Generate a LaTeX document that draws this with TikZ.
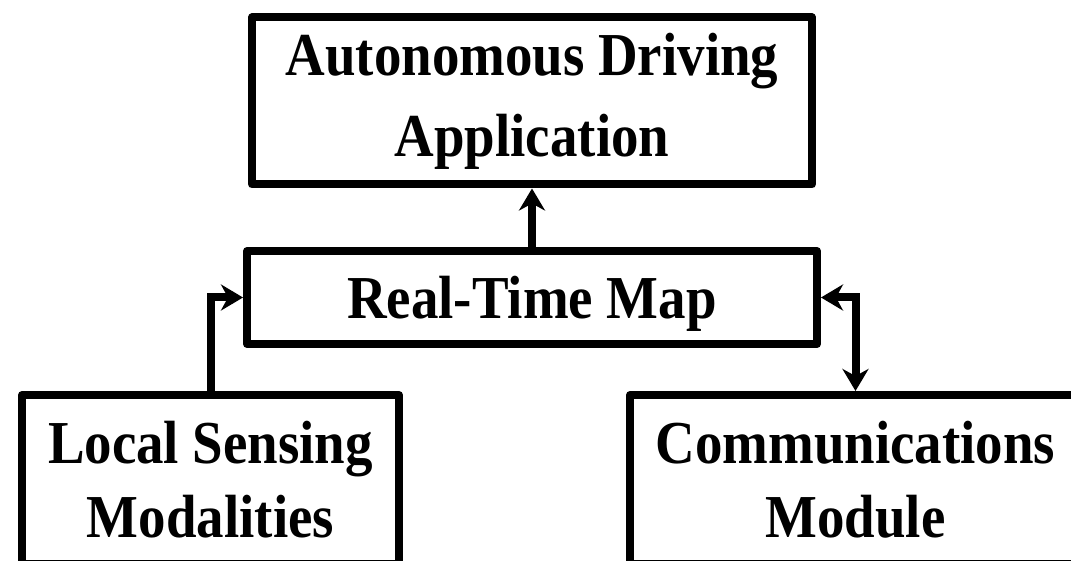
\documentclass[tikz,border=0pt]{standalone}
\usepackage{fontspec}
\newfontfamily\diagfont{Liberation Serif}[FakeStretch=0.9]
\usetikzlibrary{arrows.meta}
\begin{document}
\begin{tikzpicture}[x=1pt,y=-1pt,
  box/.style={draw, line width=8pt, line join=round, align=center, inner sep=0pt},
  bigtext/.style={font=\diagfont\bfseries\fontsize{61}{81}\selectfont},
  lowtext/.style={font=\diagfont\bfseries\fontsize{61}{74}\selectfont},
  arr/.tip={Stealth[length=22pt,width=26pt,inset=7pt]},
  link/.style={line width=8pt},
]
\useasboundingbox (0,0) rectangle (1071,561);
\clip (0,0) rectangle (1071,561);

% blocks
\node[box, bigtext, minimum width=560pt, minimum height=167pt] (app) at (532,101)
  {Autonomous Driving\\Application};
\node[box, bigtext, minimum width=570pt, minimum height=93pt, text depth=0pt] (map) at (532,297.5)
  {Real-Time Map};
\node[box, lowtext, minimum width=377pt, minimum height=168.5pt] (sense) at (210.5,479.25)
  {Local Sensing\\Modalities};
\node[box, lowtext, minimum width=451pt, minimum height=168.5pt] (comm) at (855.5,479.25)
  {Communications\\Module};

% data flow
\draw[link, -arr] (map.north) -- (app.south);
\draw[link, -arr] (sense.north) |- (map.west);
\draw[link, arr-arr] (map.east) -| (comm.north);
\end{tikzpicture}
\end{document}
